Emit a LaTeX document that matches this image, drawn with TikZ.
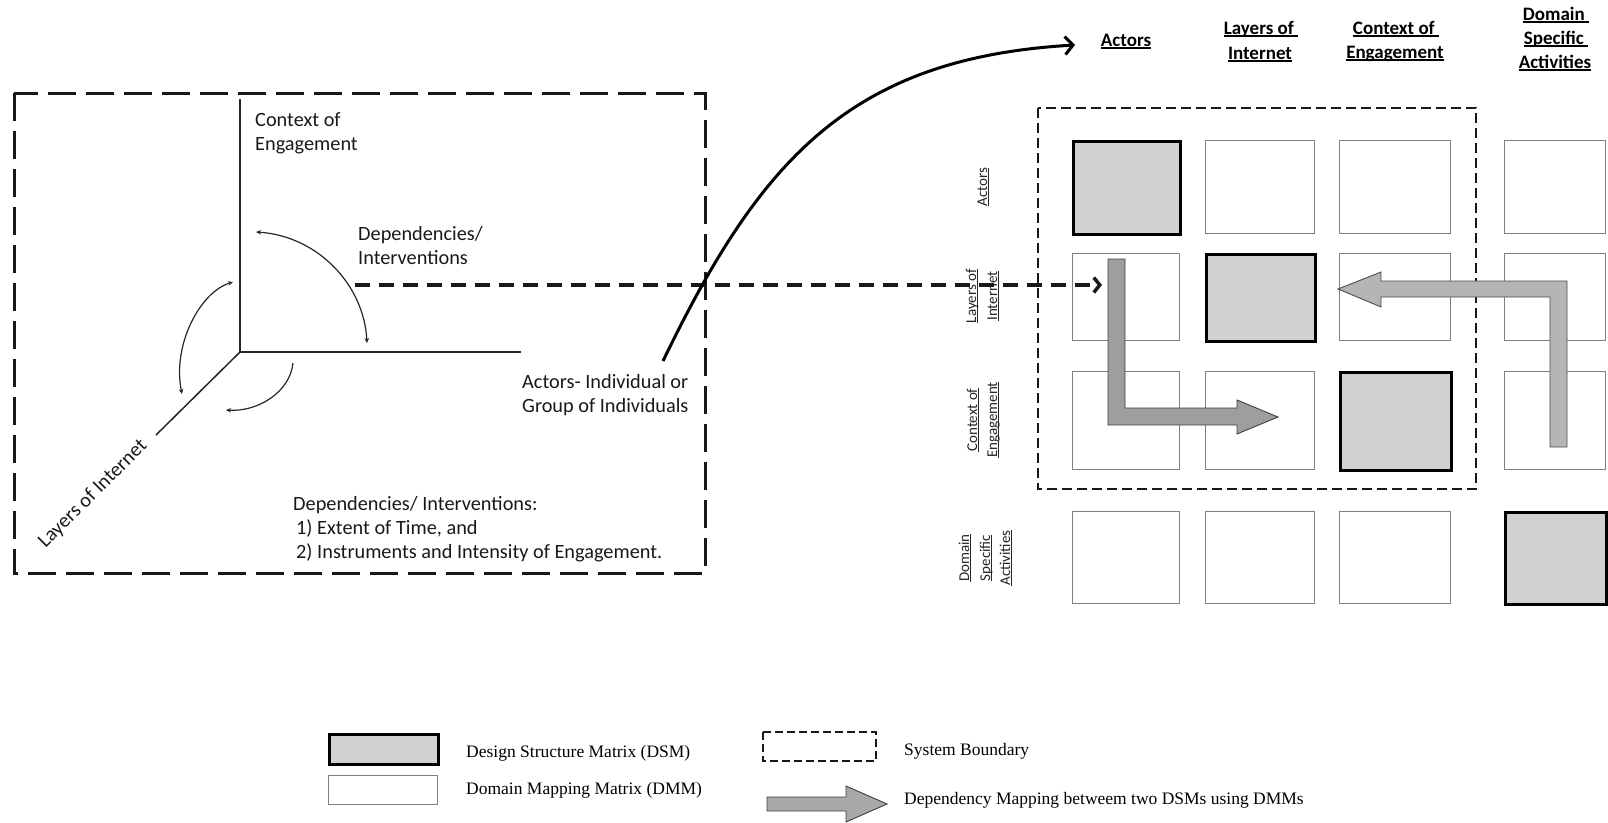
\documentclass[tikz,border=0pt]{standalone}
\usepackage{fontspec}
\setmainfont{Carlito}
\newfontfamily\timesf{Liberation Serif}
\usetikzlibrary{arrows.meta}
\newcommand\ulx[1]{\setbox0\hbox{#1}\rlap{\copy0}\rule[-0.14em]{\wd0}{0.07em}}
\tikzset{
  lbl/.style={font=\fontsize{20.3}{24}\selectfont, inner sep=0pt, anchor=base west, text=black!90},
  hdr/.style={font=\bfseries\fontsize{19}{24}\selectfont, inner sep=0pt, anchor=base},
  rowlbl/.style={font=\fontsize{15}{20}\selectfont, inner sep=0pt, anchor=base, rotate=90, text=black!85},
  leg/.style={font=\timesf\fontsize{17.5}{21}\selectfont, inner sep=0pt, anchor=base west},
  dsm/.style={draw=black, line width=2.6pt, fill=black!18, inner sep=0pt, anchor=north west},
  dmm/.style={draw=black!50, line width=1.3pt, fill=white, inner sep=0pt, anchor=north west},
  bigbound/.style={draw=black!90, line width=3pt, dash pattern=on 28pt off 10pt},
  sysbound/.style={draw=black!90, line width=2pt, dash pattern=on 10pt off 5pt},
  legbound/.style={draw=black!90, line width=2pt, dash pattern=on 8pt off 4pt},
  axisline/.style={line width=1.5pt, black!85},
  deparc/.style={line width=1.2pt, black!85},
  smalltip/.style={-{Stealth[length=5pt,width=4.5pt]}},
  smalltips/.style={{Stealth[length=5pt,width=4.5pt]}-{Stealth[length=5pt,width=4.5pt]}},
  blockA/.style={fill=black!38, draw=black!75, line width=0.9pt},
  blockB/.style={fill=black!29, draw=black!70, line width=0.9pt},
  dasharrow/.style={line width=3.5pt, black!90, dash pattern=on 15pt off 9pt, -{Straight Barb[length=6pt,width=15pt]}},
  curvearrow/.style={line width=3pt, black, -{Straight Barb[length=8pt,width=18pt]}},
}
\begin{document}
\begin{tikzpicture}[x=1pt, y=-1pt]
\useasboundingbox (0,0) rectangle (1608,822);

% ---------- left 3D frame ----------
\draw[bigbound] (14,93) rectangle (705,573);

\coordinate (O) at (240,352);
\coordinate (axUp) at (240,99);
\coordinate (axRight) at (521,352);
\coordinate (axDiag) at (156,435);
\draw[axisline] (O) -- (axUp);
\draw[axisline] (O) -- (axRight);
\draw[axisline] (O) -- (axDiag);

\coordinate (a1s) at (256,232);
\coordinate (a1e) at (367,343);
\draw[deparc, smalltips] (a1s) .. controls (318,236) and (364,285) .. (a1e);
\coordinate (a2s) at (233,282);
\coordinate (a2e) at (182,394);
\draw[deparc, smalltips] (a2s) .. controls (200,292) and (172,345) .. (a2e);
\coordinate (a3s) at (293,363);
\coordinate (a3e) at (226,410);
\draw[deparc, smalltip] (a3s) .. controls (290,392) and (258,412) .. (a3e);

\node[lbl] (tCE1) at (255,126) {Context of};
\node[lbl] (tCE2) at (255,150) {Engagement};
\node[lbl] (tDI1) at (358,240) {Dependencies/};
\node[lbl] (tDI2) at (358,264) {Interventions};
\node[lbl] (tAI1) at (522,388) {Actors- Individual or};
\node[lbl] (tAI2) at (522,412) {Group of Individuals};
\node[lbl] (tDL1) at (293,510) {Dependencies/ Interventions:};
\node[lbl] (tDL2) at (296,534) {1) Extent of Time, and};
\node[lbl] (tDL3) at (296,558) {2) Instruments and Intensity of Engagement.};
\node[lbl, anchor=center, rotate=45] (tLI) at (93,494) {Layers of Internet};

% ---------- matrix ----------
\node[hdr] (hA) at (1126,46) {\ulx{Actors}};
\node[hdr] (hL1) at (1261,34) {\ulx{Layers of\ }};
\node[hdr] (hL2) at (1260,59) {\ulx{Internet}};
\node[hdr] (hC1) at (1396,34) {\ulx{Context of\ }};
\node[hdr] (hC2) at (1395,58) {\ulx{Engagement}};
\node[hdr] (hD1) at (1556,20) {\ulx{Domain\ }};
\node[hdr] (hD2) at (1556,44) {\ulx{Specific\ }};
\node[hdr] (hD3) at (1555,68) {\ulx{Activities}};

\node[rowlbl] (rA) at (987,187) {\ulx{Actors}};
\node[rowlbl] (rL1) at (976,296) {\ulx{Layers of}};
\node[rowlbl] (rL2) at (997,296) {\ulx{Internet}};
\node[rowlbl] (rC1) at (977,420) {\ulx{Context of}};
\node[rowlbl] (rC2) at (997,420) {\ulx{Engagement}};
\node[rowlbl] (rD1) at (969,558) {\ulx{Domain}};
\node[rowlbl] (rD2) at (990,558) {\ulx{Specific}};
\node[rowlbl] (rD3) at (1010,558) {\ulx{Activities}};

% row 1
\node[dsm, minimum width=107pt, minimum height=93pt] (m11) at (1072,140) {};
\node[dmm, minimum width=109pt, minimum height=93pt] (m12) at (1205,140) {};
\node[dmm, minimum width=111pt, minimum height=93pt] (m13) at (1339,140) {};
\node[dmm, minimum width=101pt, minimum height=93pt] (m14) at (1504,140) {};
% row 2
\node[dmm, minimum width=107pt, minimum height=87pt] (m21) at (1072,253) {};
\node[dsm, minimum width=109pt, minimum height=87pt] (m22) at (1205,253) {};
\node[dmm, minimum width=111pt, minimum height=87pt] (m23) at (1339,253) {};
\node[dmm, minimum width=101pt, minimum height=87pt] (m24) at (1504,253) {};
% row 3
\node[dmm, minimum width=107pt, minimum height=98pt] (m31) at (1072,371) {};
\node[dmm, minimum width=109pt, minimum height=98pt] (m32) at (1205,371) {};
\node[dsm, minimum width=111pt, minimum height=98pt] (m33) at (1339,371) {};
\node[dmm, minimum width=101pt, minimum height=98pt] (m34) at (1504,371) {};
% row 4
\node[dmm, minimum width=107pt, minimum height=92pt] (m41) at (1072,511) {};
\node[dmm, minimum width=109pt, minimum height=92pt] (m42) at (1205,511) {};
\node[dmm, minimum width=111pt, minimum height=92pt] (m43) at (1339,511) {};
\node[dsm, minimum width=101pt, minimum height=92pt] (m44) at (1504,511) {};

\draw[sysbound] (1038,108) rectangle (1476,489);

% block arrows
\draw[blockA] (1108,259) -- (1125,259) -- (1125,408) -- (1237,408) -- (1237,400)
  -- (1278,417) -- (1237,434) -- (1237,425) -- (1108,425) -- cycle;
\draw[blockB] (1550,447) -- (1550,297) -- (1381,297) -- (1381,307) -- (1338,289)
  -- (1381,272) -- (1381,281) -- (1567,281) -- (1567,447) -- cycle;

% connectors between the two views
\coordinate (dS) at (355,285);
\coordinate (dE) at (1102,285);
\draw[dasharrow] (dS) -- (dE);
\coordinate (cS) at (663,361);
\coordinate (cE) at (1075,45);
\draw[curvearrow] (cS) .. controls (760,160) and (850,58) .. (cE);

% ---------- legend ----------
\node[dsm, minimum width=109pt, minimum height=30pt] (lgDSM) at (328,733) {};
\node[dmm, minimum width=109pt, minimum height=29pt] (lgDMM) at (328,775) {};
\node[leg] (lgDSMt) at (466,757) {Design Structure Matrix (DSM)};
\node[leg] (lgDMMt) at (466,794) {Domain Mapping Matrix (DMM)};
\draw[legbound] (763,732) rectangle (876,761);
\node[leg] (lgSBt) at (904,755) {System Boundary};
\draw[blockA, fill=black!34] (767,797) -- (846,797) -- (846,786) -- (887,804) -- (846,822)
  -- (846,811) -- (767,811) -- cycle;
\node[leg] (lgDMt) at (904,804) {Dependency Mapping betweem two DSMs using DMMs};
\end{tikzpicture}
\end{document}
